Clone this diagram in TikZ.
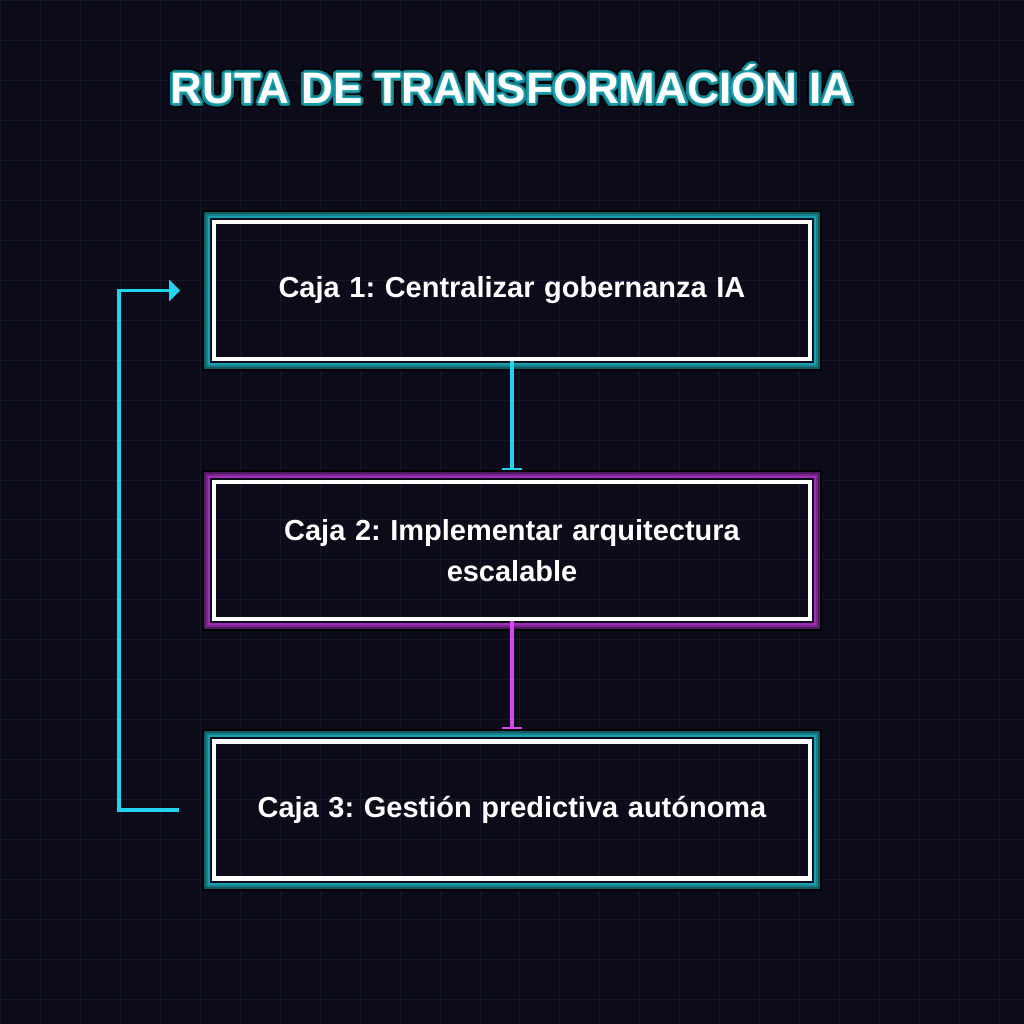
\documentclass[tikz,border=0pt]{standalone}
\usepackage{fontspec}
\setmainfont{Liberation Sans}
\usetikzlibrary{arrows.meta,positioning,calc}
\definecolor{fondo}{HTML}{0B0B1A}
\definecolor{rejilla}{HTML}{17172C}
\definecolor{cian}{HTML}{22D3EE}
\definecolor{magenta}{HTML}{D946EF}
\definecolor{tealA}{HTML}{1A9FAF}
\definecolor{tealB}{HTML}{157F8C}
\definecolor{tealC}{HTML}{0F5A63}
\definecolor{moradoA}{HTML}{A030B8}
\definecolor{moradoB}{HTML}{7A2590}
\definecolor{moradoC}{HTML}{501A60}
\frenchspacing

% layered glow round a box: node, bright, mid, dark
\newcommand{\brillo}[4]{%
  \draw[black,line width=2pt] ([xshift=-9pt,yshift=-9pt]#1.south west) rectangle ([xshift=9pt,yshift=9pt]#1.north east);
  \draw[#4,line width=2pt] ([xshift=-7pt,yshift=-7pt]#1.south west) rectangle ([xshift=7pt,yshift=7pt]#1.north east);
  \draw[#3,line width=2pt] ([xshift=-5pt,yshift=-5pt]#1.south west) rectangle ([xshift=5pt,yshift=5pt]#1.north east);
  \draw[#2,line width=2pt] ([xshift=-3pt,yshift=-3pt]#1.south west) rectangle ([xshift=3pt,yshift=3pt]#1.north east);
}

\begin{document}
\begin{tikzpicture}[x=1pt,y=-1pt,
  caja/.style={draw=white,line width=4.3pt,minimum width=596pt,minimum height=137pt,
    inner sep=0pt,text width=560pt,align=center,text=white,
    font=\fontsize{29}{41}\selectfont\bfseries},
  flecha/.style={line width=3.5pt,-{Bar[width=21pt,line width=2pt]},shorten >=10pt},
  lazo/.style={cian,line width=3.5pt,-{Triangle[length=11pt,width=21pt]}},
  titfont/.style={font=\fontsize{44}{44}\selectfont\bfseries}]
  % Background and grid
  \fill[fondo] (0,0) rectangle (1024,1024);
  \draw[rejilla,line width=1pt,step=40pt] (0,0) grid (1024,1024);

  % Title with glow
  \foreach \a in {0,30,...,330}
    \node[titfont,text=black] at ($(512,84)+(\a:4.5pt)$) {RUTA DE TRANSFORMACIÓN IA};
  \foreach \a in {0,30,...,330}
    \node[titfont,text=tealB] at ($(512,84)+(\a:3pt)$) {RUTA DE TRANSFORMACIÓN IA};
  \foreach \a in {0,45,...,315}
    \node[titfont,text=tealA] at ($(512,84)+(\a:1.5pt)$) {RUTA DE TRANSFORMACIÓN IA};
  \node[titfont,text=white] (titulo) at (512,84) {RUTA DE TRANSFORMACIÓN IA};

  % Boxes
  \node[caja] (caja1) at (512,290.3) {Caja 1: Centralizar gobernanza IA};
  \node[caja,below=118.7pt of caja1] (caja2) {Caja 2: Implementar arquitectura\\escalable};
  \node[caja,below=118.7pt of caja2] (caja3) {Caja 3: Gestión predictiva autónoma};
  \brillo{caja1}{tealA}{tealB}{tealC}
  \brillo{caja2}{moradoA}{moradoB}{moradoC}
  \brillo{caja3}{tealA}{tealB}{tealC}

  % Flow
  \draw[flecha,cian] (caja1.south) -- (caja2.north);
  \draw[flecha,magenta] (caja2.south) -- (caja3.north);

  % Loop back
  \draw[lazo] ([xshift=-33pt]caja3.west) -- ++(-60,0) |- ([xshift=-32pt]caja1.west);
\end{tikzpicture}
\end{document}
